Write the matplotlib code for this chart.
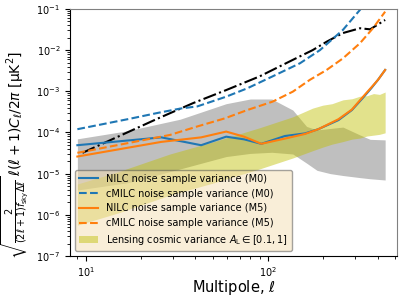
import matplotlib
matplotlib.use('Agg')
import matplotlib.pyplot as plt
import numpy as np

# NILC (solid) lines, binned multipoles
ell_nilc = [9, 26, 43, 59, 74, 92, 124, 160, 189, 244, 289, 333, 370, 402, 440]
nilc_m0 = [4.9e-5, 7.6e-5, 4.9e-5, 7.9e-5, 6.8e-5, 5.3e-5, 8.2e-5, 9.5e-5,
           1.2e-4, 2.0e-4, 3.5e-4, 7.0e-4, 1.2e-3, 1.9e-3, 3.3e-3]
nilc_m5 = [2.6e-5, 5.9e-5, 7.6e-5, 1.05e-4, 7.9e-5, 5.3e-5, 7.1e-5, 9.2e-5,
           1.2e-4, 2.1e-4, 3.6e-4, 7.4e-4, 1.25e-3, 1.9e-3, 3.3e-3]

# cMILC (dashed) lines
ell_cm0 = [9, 17, 25, 33, 41, 59, 77, 106, 150, 193, 258, 320, 440]
cmilc_m0 = [1.2e-4, 2.1e-4, 3.0e-4, 3.8e-4, 4.3e-4, 7.4e-4, 1.18e-3, 2.3e-3,
            4.8e-3, 1.0e-2, 3.1e-2, 9.5e-2, 5e-1]
ell_cm5 = [9, 17, 29, 41, 58, 77, 106, 137, 170, 210, 258, 320, 377, 440]
cmilc_m5 = [3.2e-5, 5.5e-5, 8.7e-5, 1.4e-4, 2.2e-4, 3.5e-4, 5.6e-4, 9.8e-4,
            1.9e-3, 3.3e-3, 6.3e-3, 1.47e-2, 3.4e-2, 8.6e-2]

# black dash-dot curve
ell_bk = [9.6, 25, 39, 59, 90, 137, 176, 210, 258, 320, 364, 440]
black = [3.2e-5, 2.2e-4, 5.2e-4, 1.07e-3, 2.3e-3, 5.8e-3, 1.0e-2, 1.6e-2,
         2.6e-2, 3.4e-2, 3.2e-2, 5.4e-2]

# gray band
ell_gray = [9, 17, 33, 59, 80, 105, 137, 163, 186, 220, 258, 320, 364, 440]
gray_hi = [7e-5, 1.1e-4, 2.1e-4, 5.0e-4, 6.5e-4, 6.5e-4, 3.5e-4, 1.4e-4,
           1.15e-4, 1.25e-4, 1.35e-4, 8.7e-5, 6.8e-5, 6.6e-5]
gray_lo = [4e-6, 6e-6, 1.3e-5, 2.6e-5, 3.1e-5, 3.3e-5, 3.0e-5, 1.8e-5,
           1.2e-5, 1.0e-5, 9e-6, 8e-6, 7.5e-6, 7e-6]

# lensing cosmic variance band
ell_lens = [9, 15, 29, 50, 90, 137, 176, 200, 225, 258, 290, 320, 350, 380, 410, 440]
lens_hi = [5.6e-6, 1.1e-5, 3.0e-5, 5.9e-5, 1.3e-4, 2.4e-4, 3.9e-4, 4.6e-4,
           5.0e-4, 6.2e-4, 6.6e-4, 7.6e-4, 7.8e-4, 8.8e-4, 8.4e-4, 9.6e-4]
lens_lo = [5.6e-7, 1.1e-6, 3.0e-6, 5.9e-6, 1.3e-5, 2.4e-5, 3.6e-5, 4.4e-5,
           5.2e-5, 6.0e-5, 6.9e-5, 7.3e-5, 8.2e-5, 8.6e-5, 9.0e-5, 9.8e-5]

fig = plt.figure(figsize=(4.07, 2.99), dpi=100)
ax = fig.add_axes([0.172, 0.144, 0.803, 0.826])

ax.fill_between(ell_gray, gray_lo, gray_hi, color='gray', alpha=0.5, lw=0)
ax.fill_between(ell_lens, lens_lo, lens_hi, color='y', alpha=0.45, lw=0,
                label=r'Lensing cosmic variance $A_{\rm L} \in [0.1, 1]$')
ax.plot(ell_bk, black, 'k-.', lw=1.5)
ax.plot(ell_nilc, nilc_m0, color='C0', lw=1.5, label='NILC noise sample variance (M0)')
ax.plot(ell_cm0, cmilc_m0, color='C0', ls='--', lw=1.5, label='cMILC noise sample variance (M0)')
ax.plot(ell_nilc, nilc_m5, color='C1', lw=1.5, label='NILC noise sample variance (M5)')
ax.plot(ell_cm5, cmilc_m5, color='C1', ls='--', lw=1.5, label='cMILC noise sample variance (M5)')

ax.set_xscale('log')
ax.set_yscale('log')
ax.set_xlim(8.2, 510)
ax.set_ylim(1e-7, 1e-1)
ax.tick_params(labelsize=7)
for s in ['top', 'right']:
    ax.spines[s].set_color('0.5')

h, l = ax.get_legend_handles_labels()
order = [1, 2, 3, 4, 0]
ax.legend([h[i] for i in order], [l[i] for i in order], loc='lower left',
          fontsize=7, facecolor='wheat', framealpha=0.5, edgecolor='0.3')

ax.set_xlabel(r'Multipole, $\ell$', fontsize=10.5)
ax.xaxis.set_label_coords(0.5, -0.09)
ax.set_ylabel(r'$\sqrt{\frac{2}{(2\ell+1)f_{\rm sky}\Delta\ell}}\,\ell(\ell+1)C_\ell/2\pi$ [μK$^2$]',
              fontsize=10)
ax.yaxis.set_label_coords(-0.12, 0.41)

fig.savefig('out.png', dpi=100)
